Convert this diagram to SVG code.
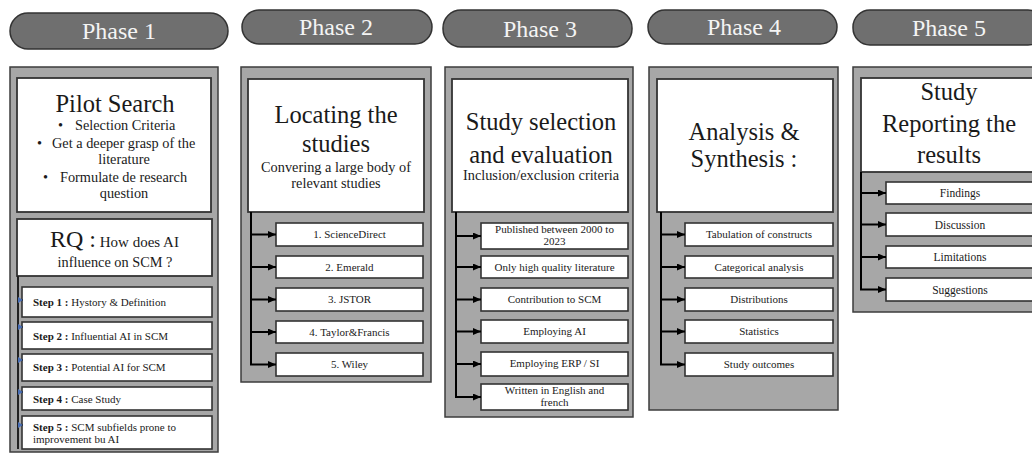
<svg xmlns="http://www.w3.org/2000/svg" width="1032" height="454" viewBox="0 0 1032 454">
<defs>
<style>
text{font-family:"Liberation Serif","Times New Roman",Times,"DejaVu Serif","Noto Serif",serif}
.pill{fill:#6f6f6f;stroke:#333;stroke-width:1.5}
.pt{font-size:24px;fill:#f4f4f4;text-anchor:middle}
.panel{fill:#a7a7a7;stroke:#3d3d3d;stroke-width:1.5}
.wbox{fill:#fff;stroke:#333;stroke-width:1.8}
.ibox{fill:#fff;stroke:#333;stroke-width:1.6}
.big{font-size:24.5px;fill:#1a1a1a;text-anchor:middle}
.mid{font-size:14.3px;fill:#1a1a1a}
.c{text-anchor:middle}
.sm{font-size:11px;fill:#1a1a1a}
.sm5{font-size:11.5px;fill:#1a1a1a;text-anchor:middle}
.b{font-weight:bold}
.conn{fill:none;stroke:#000;stroke-width:2}
.conn1{fill:none;stroke:#222;stroke-width:2}
</style>
<marker id="ah" viewBox="0 0 8 7" refX="8" refY="3.5" markerWidth="8" markerHeight="7" markerUnits="userSpaceOnUse" orient="auto"><path d="M0,0 L8,3.5 L0,7 z" fill="#000"/></marker>
<marker id="ahb" viewBox="0 0 5 6" refX="5" refY="3" markerWidth="5" markerHeight="6" markerUnits="userSpaceOnUse" orient="auto"><path d="M0,0 L5,3 L0,6 z" fill="#4a6fb5"/></marker>
</defs>
<rect width="1032" height="454" fill="#fff"/>

<!-- Phase headers -->
<g id="phase1-header"><rect class="pill" x="10" y="13" width="218" height="36" rx="18"/><text class="pt" x="119" y="39">Phase 1</text></g>
<g id="phase2-header"><rect class="pill" x="242" y="10" width="190" height="34" rx="17"/><text class="pt" x="336" y="35">Phase 2</text></g>
<g id="phase3-header"><rect class="pill" x="443" y="10" width="189" height="37" rx="18"/><text class="pt" x="540" y="37">Phase 3</text></g>
<g id="phase4-header"><rect class="pill" x="648" y="10" width="189" height="34" rx="17"/><text class="pt" x="744" y="35">Phase 4</text></g>
<g id="phase5-header"><rect class="pill" x="853" y="10" width="192" height="35" rx="17"/><text class="pt" x="949" y="36">Phase 5</text></g>

<!-- Panels -->
<g id="phase1-panel"><rect class="panel" x="10" y="67" width="208" height="385"/></g>
<g id="phase2-panel"><rect class="panel" x="241" y="67" width="190" height="315"/></g>
<g id="phase3-panel"><rect class="panel" x="445" y="67" width="188" height="350"/></g>
<g id="phase4-panel"><rect class="panel" x="649" y="67" width="189" height="343"/></g>
<g id="phase5-panel"><rect class="panel" x="853" y="67" width="192" height="245"/></g>

<!-- Phase 1 -->
<g id="pilot-search">
<rect class="wbox" x="17" y="78" width="194" height="134"/>
<text class="big" x="115" y="112">Pilot Search</text>
<text class="mid" x="58" y="130">•</text><text class="mid" x="75" y="130">Selection Criteria</text>
<text class="mid" x="37" y="148">•</text><text class="mid" x="52" y="148">Get a deeper grasp of the</text>
<text class="mid c" x="124" y="164">literature</text>
<text class="mid" x="43" y="182">•</text><text class="mid" x="60" y="182">Formulate de research</text>
<text class="mid c" x="124" y="198">question</text>
</g>
<g id="rq">
<rect class="wbox" x="17" y="219" width="195" height="57"/>
<text x="50" y="247" fill="#1a1a1a"><tspan font-size="24">RQ :</tspan><tspan font-size="15"> How does AI</tspan></text>
<text class="mid c" x="115" y="267" font-size="15">influence on SCM ?</text>
</g>
<g id="step1"><rect class="ibox" x="22" y="287" width="190" height="30"/><text class="sm" x="33" y="306"><tspan class="b">Step 1 :</tspan> Hystory &amp; Definition</text></g>
<g id="step2"><rect class="ibox" x="22" y="322" width="190" height="27"/><text class="sm" x="33" y="340"><tspan class="b">Step 2 :</tspan> Influential AI in SCM</text></g>
<g id="step3"><rect class="ibox" x="22" y="354" width="190" height="27"/><text class="sm" x="33" y="371"><tspan class="b">Step 3 :</tspan> Potential AI for SCM</text></g>
<g id="step4"><rect class="ibox" x="22" y="387" width="190" height="23"/><text class="sm" x="33" y="403"><tspan class="b">Step 4 :</tspan> Case Study</text></g>
<g id="step5"><rect class="ibox" x="22" y="416" width="190" height="33"/><text class="sm" x="33" y="431"><tspan class="b">Step 5 :</tspan> SCM subfields prone to</text><text class="sm" x="33" y="443">improvement bu AI</text></g>

<!-- Phase 2 -->
<g id="locating">
<rect class="wbox" x="248" y="79" width="176" height="133"/>
<text class="big" x="336" y="123">Locating the</text>
<text class="big" x="336" y="152">studies</text>
<text class="mid c" x="336" y="172">Convering a large body of</text>
<text class="mid c" x="336" y="188">relevant studies</text>
</g>
<g id="db1"><rect class="ibox" x="276" y="223" width="147" height="23"/><text class="sm c" x="349.5" y="238">1. ScienceDirect</text></g>
<g id="db2"><rect class="ibox" x="276" y="256" width="147" height="22"/><text class="sm c" x="349.5" y="271">2. Emerald</text></g>
<g id="db3"><rect class="ibox" x="276" y="288" width="147" height="23"/><text class="sm c" x="349.5" y="303">3. JSTOR</text></g>
<g id="db4"><rect class="ibox" x="276" y="321" width="147" height="22"/><text class="sm c" x="349.5" y="336">4. Taylor&amp;Francis</text></g>
<g id="db5"><rect class="ibox" x="276" y="353" width="147" height="23"/><text class="sm c" x="349.5" y="368">5. Wiley</text></g>

<!-- Phase 3 -->
<g id="selection">
<rect class="wbox" x="452" y="79" width="176" height="133"/>
<text class="big" x="541" y="130">Study selection</text>
<text class="big" x="541" y="163">and evaluation</text>
<text class="mid c" x="541" y="180">Inclusion/exclusion criteria</text>
</g>
<g id="crit1"><rect class="ibox" x="481" y="223" width="147" height="26"/><text class="sm c" x="554.5" y="233">Published between 2000 to</text><text class="sm c" x="554.5" y="245">2023</text></g>
<g id="crit2"><rect class="ibox" x="481" y="256" width="147" height="22"/><text class="sm c" x="554.5" y="271">Only high quality literature</text></g>
<g id="crit3"><rect class="ibox" x="481" y="288" width="147" height="23"/><text class="sm c" x="554.5" y="303">Contribution to SCM</text></g>
<g id="crit4"><rect class="ibox" x="481" y="320" width="147" height="23"/><text class="sm c" x="554.5" y="335">Employing AI</text></g>
<g id="crit5"><rect class="ibox" x="481" y="352" width="147" height="24"/><text class="sm c" x="554.5" y="367">Employing ERP / SI</text></g>
<g id="crit6"><rect class="ibox" x="481" y="384" width="147" height="26"/><text class="sm c" x="554.5" y="394">Written in English and</text><text class="sm c" x="554.5" y="406">french</text></g>

<!-- Phase 4 -->
<g id="analysis">
<rect class="wbox" x="657" y="79" width="176" height="133"/>
<text class="big" x="744" y="140">Analysis &amp;</text>
<text class="big" x="744" y="167">Synthesis :</text>
</g>
<g id="an1"><rect class="ibox" x="685" y="223" width="148" height="23"/><text class="sm c" x="759" y="238" font-size="12">Tabulation of constructs</text></g>
<g id="an2"><rect class="ibox" x="685" y="256" width="148" height="22"/><text class="sm c" x="759" y="271" font-size="12">Categorical analysis</text></g>
<g id="an3"><rect class="ibox" x="685" y="288" width="148" height="23"/><text class="sm c" x="759" y="303" font-size="12">Distributions</text></g>
<g id="an4"><rect class="ibox" x="685" y="320" width="148" height="23"/><text class="sm c" x="759" y="335" font-size="12">Statistics</text></g>
<g id="an5"><rect class="ibox" x="685" y="353" width="148" height="23"/><text class="sm c" x="759" y="368" font-size="12">Study outcomes</text></g>

<!-- Phase 5 -->
<g id="reporting">
<rect class="wbox" x="861" y="78" width="176" height="94"/>
<text class="big" x="949" y="100">Study</text>
<text class="big" x="949" y="132">Reporting the</text>
<text class="big" x="949" y="163">results</text>
</g>
<g id="rep1"><rect class="ibox" x="886" y="182" width="148" height="22"/><text class="sm5" x="960" y="197">Findings</text></g>
<g id="rep2"><rect class="ibox" x="886" y="213" width="148" height="23"/><text class="sm5" x="960" y="229">Discussion</text></g>
<g id="rep3"><rect class="ibox" x="886" y="246" width="148" height="22"/><text class="sm5" x="960" y="261">Limitations</text></g>
<g id="rep4"><rect class="ibox" x="886" y="278" width="148" height="23"/><text class="sm5" x="960" y="294">Suggestions</text></g>

<!-- Connectors -->
<g id="connectors">
<path class="conn1" d="M18,276 V449"/>
<path class="conn1" d="M18,300 H23" stroke-width="1" marker-end="url(#ahb)"/>
<path class="conn1" d="M18,327 H23" stroke-width="1" marker-end="url(#ahb)"/>
<path class="conn1" d="M18,360 H23" stroke-width="1" marker-end="url(#ahb)"/>
<path class="conn1" d="M18,392 H23" stroke-width="1" marker-end="url(#ahb)"/>
<path class="conn1" d="M18,425 H23" stroke-width="1" marker-end="url(#ahb)"/>

<path class="conn" d="M251,212 V364.5"/>
<path class="conn" d="M250,234.5 H276" marker-end="url(#ah)"/>
<path class="conn" d="M250,267 H276" marker-end="url(#ah)"/>
<path class="conn" d="M250,299.5 H276" marker-end="url(#ah)"/>
<path class="conn" d="M250,332 H276" marker-end="url(#ah)"/>
<path class="conn" d="M250,364.5 H276" marker-end="url(#ah)"/>

<path class="conn" d="M456,212 V397"/>
<path class="conn" d="M455,236 H481" marker-end="url(#ah)"/>
<path class="conn" d="M455,267 H481" marker-end="url(#ah)"/>
<path class="conn" d="M455,299.5 H481" marker-end="url(#ah)"/>
<path class="conn" d="M455,331.5 H481" marker-end="url(#ah)"/>
<path class="conn" d="M455,364 H481" marker-end="url(#ah)"/>
<path class="conn" d="M455,397 H481" marker-end="url(#ah)"/>

<path class="conn" d="M661,212 V364.5"/>
<path class="conn" d="M660,234.5 H685" marker-end="url(#ah)"/>
<path class="conn" d="M660,267 H685" marker-end="url(#ah)"/>
<path class="conn" d="M660,299.5 H685" marker-end="url(#ah)"/>
<path class="conn" d="M660,331.5 H685" marker-end="url(#ah)"/>
<path class="conn" d="M660,364.5 H685" marker-end="url(#ah)"/>

<path class="conn" d="M861,172 V289.5"/>
<path class="conn" d="M860,193 H886" marker-end="url(#ah)"/>
<path class="conn" d="M860,224.5 H886" marker-end="url(#ah)"/>
<path class="conn" d="M860,257 H886" marker-end="url(#ah)"/>
<path class="conn" d="M860,289.5 H886" marker-end="url(#ah)"/>
</g>
</svg>
